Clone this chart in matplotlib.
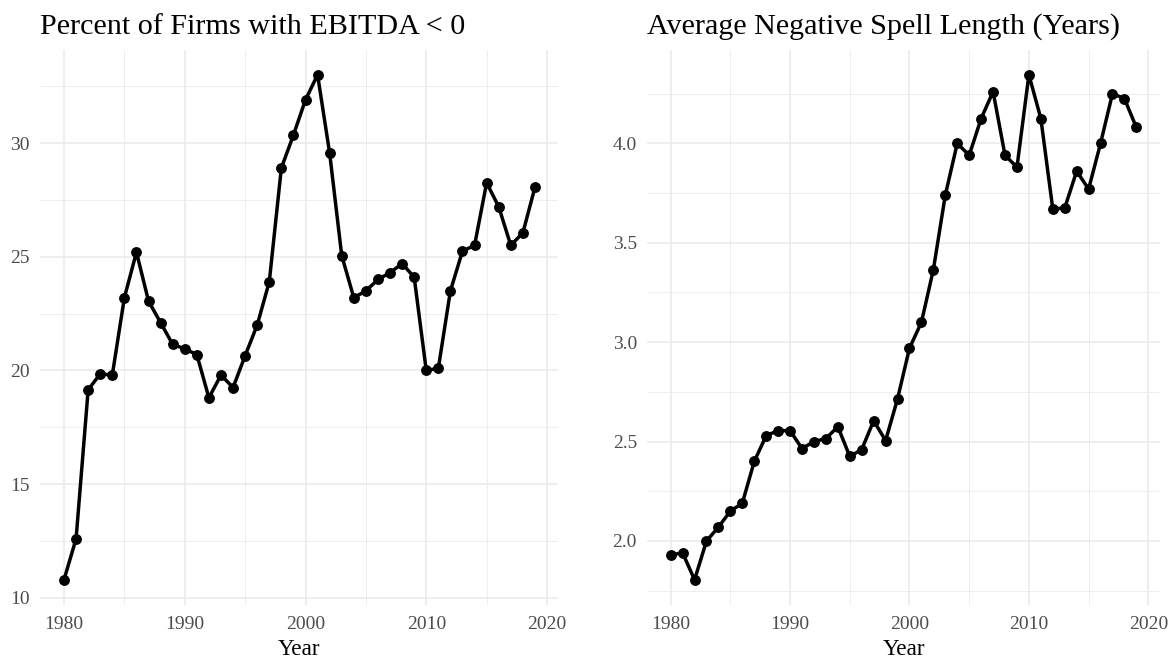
import matplotlib
matplotlib.use("Agg")
import matplotlib.pyplot as plt
from matplotlib.ticker import MultipleLocator, FormatStrFormatter

plt.rcParams["font.family"] = ["Liberation Serif", "DejaVu Serif"]

years = list(range(1980, 2020))

# percent of firms with negative EBITDA
pct_negative = [
	10.8, 12.6, 19.15, 19.85, 19.8, 23.2, 25.2, 23.05, 22.1, 21.15,
	20.95, 20.7, 18.8, 19.8, 19.25, 20.65, 22.0, 23.9, 28.9, 30.35,
	31.9, 33.0, 29.55, 25.05, 23.2, 23.5, 24.0, 24.3, 24.7, 24.1,
	20.0, 20.1, 23.5, 25.25, 25.5, 28.25, 27.2, 25.5, 26.05, 28.05,
]

# average length of negative spells, years
spell_length = [
	1.93, 1.94, 1.805, 2.0, 2.07, 2.15, 2.19, 2.40, 2.53, 2.555,
	2.555, 2.465, 2.50, 2.515, 2.575, 2.425, 2.46, 2.605, 2.505, 2.715,
	2.97, 3.10, 3.365, 3.74, 4.0, 3.94, 4.125, 4.26, 3.94, 3.88,
	4.345, 4.125, 3.67, 3.675, 3.86, 3.77, 4.0, 4.25, 4.225, 4.08,
]

titles = ["Percent of Firms with EBITDA < 0", "Average Negative Spell Length (Years)"]
GRID = "#EBEBEB"

fig = plt.figure(figsize=(11.76, 6.62), dpi=100)
ax1 = fig.add_axes([0.0344, 0.0861, 0.4405, 0.8391])
ax2 = fig.add_axes([0.5505, 0.0861, 0.4356, 0.8391])

for ax, data, title, ystep in [(ax1, pct_negative, titles[0], 5), (ax2, spell_length, titles[1], 0.5)]:
	ax.plot(years, data, color="black", lw=2.5, marker="o", ms=6.8, zorder=3)
	ax.margins(x=0.05, y=0.05)
	ax.xaxis.set_major_locator(MultipleLocator(10))
	ax.xaxis.set_minor_locator(MultipleLocator(5))
	ax.yaxis.set_major_locator(MultipleLocator(ystep))
	ax.yaxis.set_minor_locator(MultipleLocator(ystep / 2))
	ax.grid(which="major", color=GRID, lw=1.2)
	ax.grid(which="minor", color=GRID, lw=0.6)
	ax.set_axisbelow(True)
	for s in ax.spines.values():
		s.set_visible(False)
	ax.tick_params(which="both", length=0, labelsize=14, labelcolor="#4D4D4D")
	ax.tick_params(axis="x", pad=8)
	ax.tick_params(axis="y", pad=7.5)
	ax.set_xlabel("Year", fontsize=16.7, labelpad=4)
	ax.set_title(title, loc="left", fontsize=21.7, pad=11.5)

ax2.yaxis.set_major_formatter(FormatStrFormatter("%.1f"))

fig.savefig("out.png", dpi=100)
